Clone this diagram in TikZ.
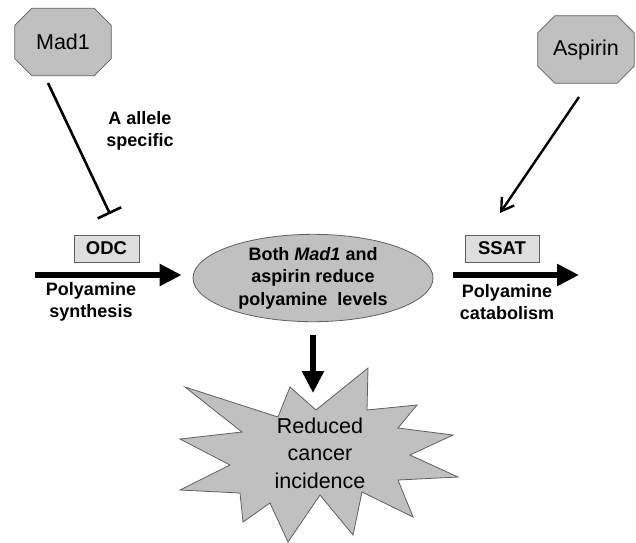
\documentclass[tikz,border=0pt]{standalone}
\usepackage{fontspec}
\setmainfont{Liberation Sans}
\usetikzlibrary{shapes.geometric,arrows.meta,backgrounds}

\definecolor{octgrey}{RGB}{192,192,192}
\definecolor{boxgrey}{RGB}{222,222,222}
\definecolor{edgegrey}{RGB}{95,95,95}

\tikzset{
  octbox/.style={rectangle,
      minimum width = 96pt,
      minimum height = 67pt,
      font = \fontsize{21.5}{25}\selectfont},
  octline/.style={draw = edgegrey,
      line width = 0.8pt,
      fill = octgrey},
  enzyme/.style={rectangle,
      draw = edgegrey,
      line width = 0.8pt,
      fill = boxgrey,
      minimum height = 27pt,
      font = \fontsize{18.5}{22}\selectfont\bfseries},
  label/.style={align=center,
      font = \fontsize{18}{22}\selectfont\bfseries},
  bigarrow/.style={line width = 6.5pt,
      -{Triangle[length=22pt,width=21pt]}},
}

\begin{document}
\begin{tikzpicture}[x=1pt,y=-1pt]
\useasboundingbox (0,0) rectangle (636,542);

% left side
  \node[octbox] (mad1) at (63,42) {Mad1};

  \node[enzyme,
      minimum width = 65pt] (odc) at (106.5,248.5) {ODC};

  \node[label] (allele) at (140,131) {A allele\\specific};

  \node[label] (synth) at (91,302) {Polyamine\\synthesis};

  \coordinate (mad1 tail) at (48,83);
  \coordinate (odc bar) at (110,214);
  \coordinate (synth in) at (35,275);

% right side
  \node[octbox] (aspirin) at (586,49.5) {Aspirin};

  \node[enzyme,
      minimum width = 74pt] (ssat) at (502,248.5) {SSAT};

  \node[label] (catab) at (507,302) {Polyamine\\catabolism};

  \coordinate (aspirin tail) at (579,97);
  \coordinate (ssat tip) at (500,213);
  \coordinate (catab out) at (579,275);

% octagons behind the two names
\begin{scope}[on background layer]
  \foreach \oct in {mad1,aspirin}
    \draw[octline] ([xshift=17pt]\oct.north west) -- ([xshift=-17pt]\oct.north east)
      -- ([yshift=-17pt]\oct.north east) -- ([yshift=17pt]\oct.south east)
      -- ([xshift=-17pt]\oct.south east) -- ([xshift=17pt]\oct.south west)
      -- ([yshift=17pt]\oct.south west) -- ([yshift=-17pt]\oct.north west) -- cycle;
\end{scope}

% middle
  \node[ellipse,
      draw = edgegrey,
      line width = 0.8pt,
      fill = octgrey,
      minimum width = 240pt,
      minimum height = 87pt,
      inner sep = 0pt,
      align = center,
      font = \fontsize{18}{22.5}\selectfont\bfseries] (both) at (313,278)
      {Both \textit{Mad1} and\\aspirin reduce\\polyamine \ levels};

% reduced cancer incidence
  \draw[octline]
      (368,368) -- (367,410) -- (417,405) -- (398,428) -- (453,435)
      -- (410,455) -- (458,477) -- (398,480) -- (413,517) -- (362,492)
      -- (353,535) -- (320,495) -- (288,542) -- (270,503) -- (243,522)
      -- (240,493) -- (180,490) -- (230,465) -- (180,439) -- (242,432)
      -- (185,387) -- (278,417) -- (290,387) -- (316,410) -- cycle;

  \node[align = center,
      font = \fontsize{21.5}{27.5}\selectfont] (result) at (320,453)
      {Reduced\\cancer\\incidence};

  \coordinate (star top) at (313,393);

% connectors
  \draw[line width = 2.6pt, -{Bar[width=26pt]}] (mad1 tail) -- (odc bar);
  \draw[line width = 2.4pt, -{Straight Barb[length=12pt,width=15pt]}] (aspirin tail) -- (ssat tip);
  \draw[bigarrow, shorten >= 11pt] (synth in) -- (synth in -| both.west);
  \draw[bigarrow, shorten <= 20pt] (catab out -| both.east) -- (catab out);
  \draw[bigarrow, shorten <= 13pt] (both.south) -- (star top);

\end{tikzpicture}
\end{document}
